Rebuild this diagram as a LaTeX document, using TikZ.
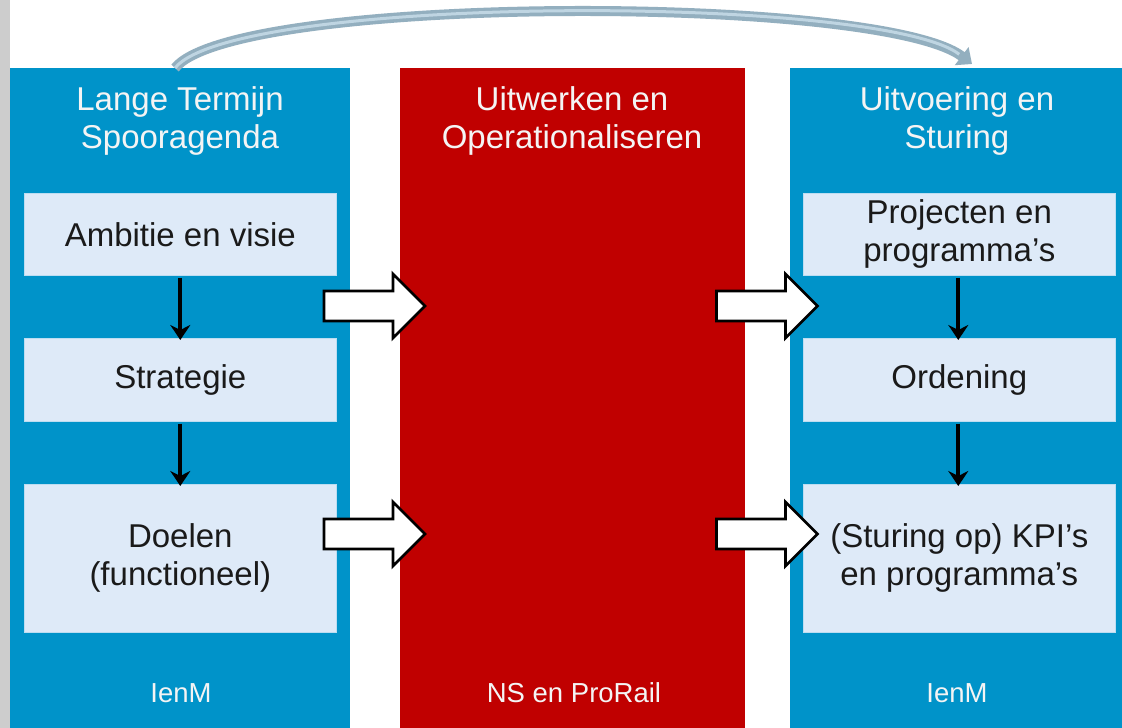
\documentclass[tikz,border=0pt]{standalone}
\usepackage{fontspec}
\setmainfont{Liberation Sans}
\usetikzlibrary{arrows.meta}
\definecolor{colblue}{HTML}{0093C9}
\definecolor{colred}{HTML}{C00000}
\definecolor{boxfill}{HTML}{DEEAF8}
\definecolor{curvecol}{HTML}{93AFBF}
\definecolor{curvein}{HTML}{BFD5E2}
\definecolor{stripgray}{HTML}{CDCDCD}
\definecolor{headtxt}{HTML}{F4F4F4}
\definecolor{boxtxt}{HTML}{1A1A1A}
\tikzset{
  column/.style={draw=none, minimum height=660pt, anchor=north west, inner sep=0pt},
  headtext/.style={text=headtxt, font=\fontsize{33}{38}\selectfont, align=center},
  foottext/.style={text=headtxt, font=\fontsize{27.5}{32}\selectfont},
  lightbox/.style={fill=boxfill, draw=boxfill!85!colblue, line width=0.6pt, minimum width=312pt, anchor=north west, inner sep=0pt, text=boxtxt, font=\fontsize{33}{38}\selectfont, align=center},
  downarrow/.style={draw=black, line width=3.8pt, -{Stealth[length=15pt,width=20pt,inset=5pt]}, shorten >=-2pt, shorten <=2pt},
  blockarrow/.style={draw=black, line width=2.8pt, fill=white, line join=miter},
  pics/barrow/.style={code={
    \path[blockarrow] (-50.5,-15) -- (18.5,-15) -- (18.5,-32) -- (50.5,0) -- (18.5,32) -- (18.5,15) -- (-50.5,15) -- cycle;
  }}
}
\begin{document}
\begin{tikzpicture}[x=1pt,y=-1pt]
\useasboundingbox (0,0) rectangle (1122,728);
\fill[white] (0,0) rectangle (1122,728);
\fill[stripgray] (0,0) rectangle (10,728);
% columns
\node[column, fill=colblue, minimum width=340pt] (lcol) at (10,68) {};
\node[column, fill=colred, minimum width=345pt] (mcol) at (400,68) {};
\node[column, fill=colblue, minimum width=332pt] (rcol) at (790,68) {};
% headers
\node[headtext] (lhead) at (180,121) {Lange Termijn\\Spooragenda};
\node[headtext] (mhead) at (572,121) {Uitwerken en\\Operationaliseren};
\node[headtext] (rhead) at (957,121) {Uitvoering en\\Sturing};
% footers
\node[foottext] (lfoot) at (181,693) {IenM};
\node[foottext] (mfoot) at (574,693) {NS en ProRail};
\node[foottext] (rfoot) at (957,693) {IenM};
% left boxes
\node[lightbox, minimum height=82pt] (l1) at (24,193) {Ambitie en visie};
\node[lightbox, minimum height=83pt] (l2) at (24,338) {Strategie};
\node[lightbox, minimum height=148pt] (l3) at (24,484) {Doelen\\(functioneel)};
% right boxes
\node[lightbox, minimum height=82pt] (r1) at (803,193) {Projecten en\\programma’s};
\node[lightbox, minimum height=83pt] (r2) at (803,338) {Ordening};
\node[lightbox, minimum height=148pt] (r3) at (803,484) {(Sturing op) KPI’s\\en programma’s};
% down arrows
\draw[downarrow] (l1.south) -- (l2.north);
\draw[downarrow] (l2.south) -- (l3.north);
\draw[downarrow] ([xshift=-1pt]r1.south) -- ([xshift=-1pt]r2.north);
\draw[downarrow] ([xshift=-1pt]r2.south) -- ([xshift=-1pt]r3.north);
% block arrows
\pic at (374.5,306) {barrow};
\pic at (374.5,534) {barrow};
\pic at (767,306) {barrow};
\pic at (767,534) {barrow};
% curved arrow
\coordinate (cs) at (175,68);
\coordinate (ce) at (972,64);
\draw[curvecol, line width=10pt, -{Triangle[length=13pt,width=22pt]}] (cs) .. controls (235,-6) and (880,-6) .. (ce);
\draw[curvein, line width=3pt, shorten >=16pt] (cs) .. controls (235,-6) and (880,-6) .. (ce);
\end{tikzpicture}
\end{document}
